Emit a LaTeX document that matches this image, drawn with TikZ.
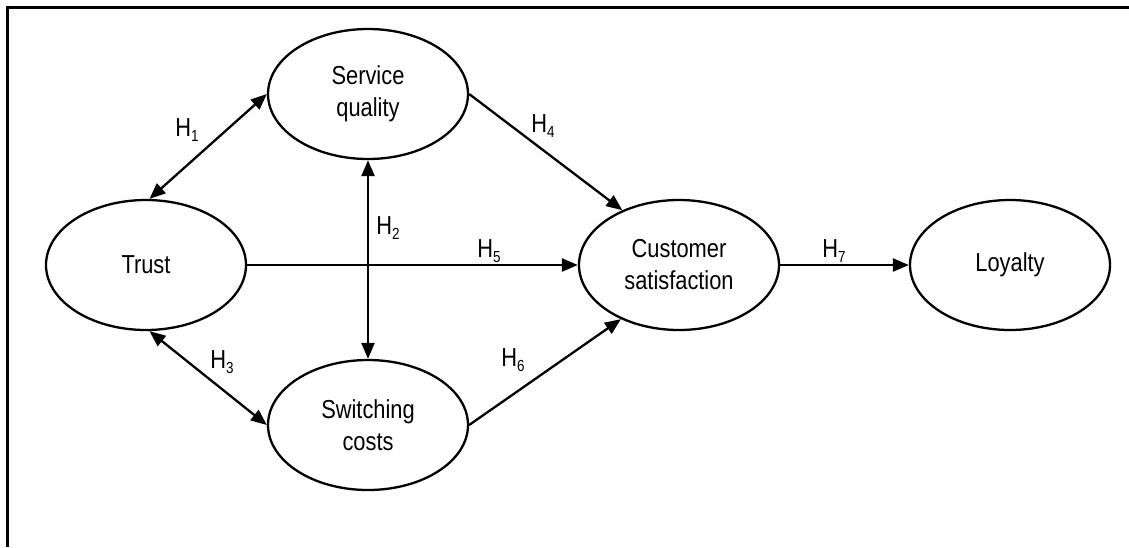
\documentclass[tikz,border=0pt]{standalone}
\usepackage{fontspec}
\setmainfont{Liberation Sans}[FakeStretch=0.84]
\usetikzlibrary{shapes.geometric,arrows.meta}
\newcommand{\hyp}[1]{H\raisebox{-0.35ex}{\fontsize{16}{16}\selectfont #1}}
\begin{document}
\begin{tikzpicture}[x=1pt,y=-1pt,
  construct/.style={draw,line width=2.3pt,ellipse,minimum width=200pt,minimum height=130pt,
    inner sep=0pt,align=center,font=\fontsize{26}{32}\selectfont},
  link/.style={line width=2.3pt,-{Triangle[length=16pt,width=13pt]}},
  bilink/.style={line width=2.3pt,{Triangle[length=16pt,width=13pt]}-{Triangle[length=16pt,width=13pt]}},
  hlabel/.style={font=\fontsize{26}{26}\selectfont,inner sep=0pt}]
\useasboundingbox (0,0) rectangle (1129,547);
% outer frame (top and left edges)
\draw[line width=3pt] (1129,7) -- (7,7) -- (7,547);

% constructs
\node[construct] (sq)    at (368,94)  {Service\\quality};
\node[construct] (trust) at (146,265) {Trust};
\node[construct] (sw)    at (368,425) {Switching\\costs};
\node[construct] (cs)    at (679,265) {Customer\\satisfaction};
\node[construct] (loy)   at (1010,265) {Loyalty};

% hypothesised paths
\draw[bilink] (trust.87) -- (sq.west);
\draw[bilink] (sq.south) -- (sw.north);
\draw[bilink] (trust.-87) -- (sw.west);
\draw[link] (sq.east) -- (cs.136);
\draw[link] (trust.east) -- (cs.west);
\draw[link] (sw.east) -- (cs.-137);
\draw[link] (cs.east) -- (loy.west);

% path labels
\node[hlabel] (h1) at (187,130) {\hyp{1}};
\node[hlabel] (h2) at (388,228) {\hyp{2}};
\node[hlabel] (h3) at (222,362) {\hyp{3}};
\node[hlabel] (h4) at (543,126) {\hyp{4}};
\node[hlabel] (h5) at (489,251) {\hyp{5}};
\node[hlabel] (h6) at (513,360) {\hyp{6}};
\node[hlabel] (h7) at (834,251) {\hyp{7}};
\end{tikzpicture}
\end{document}
